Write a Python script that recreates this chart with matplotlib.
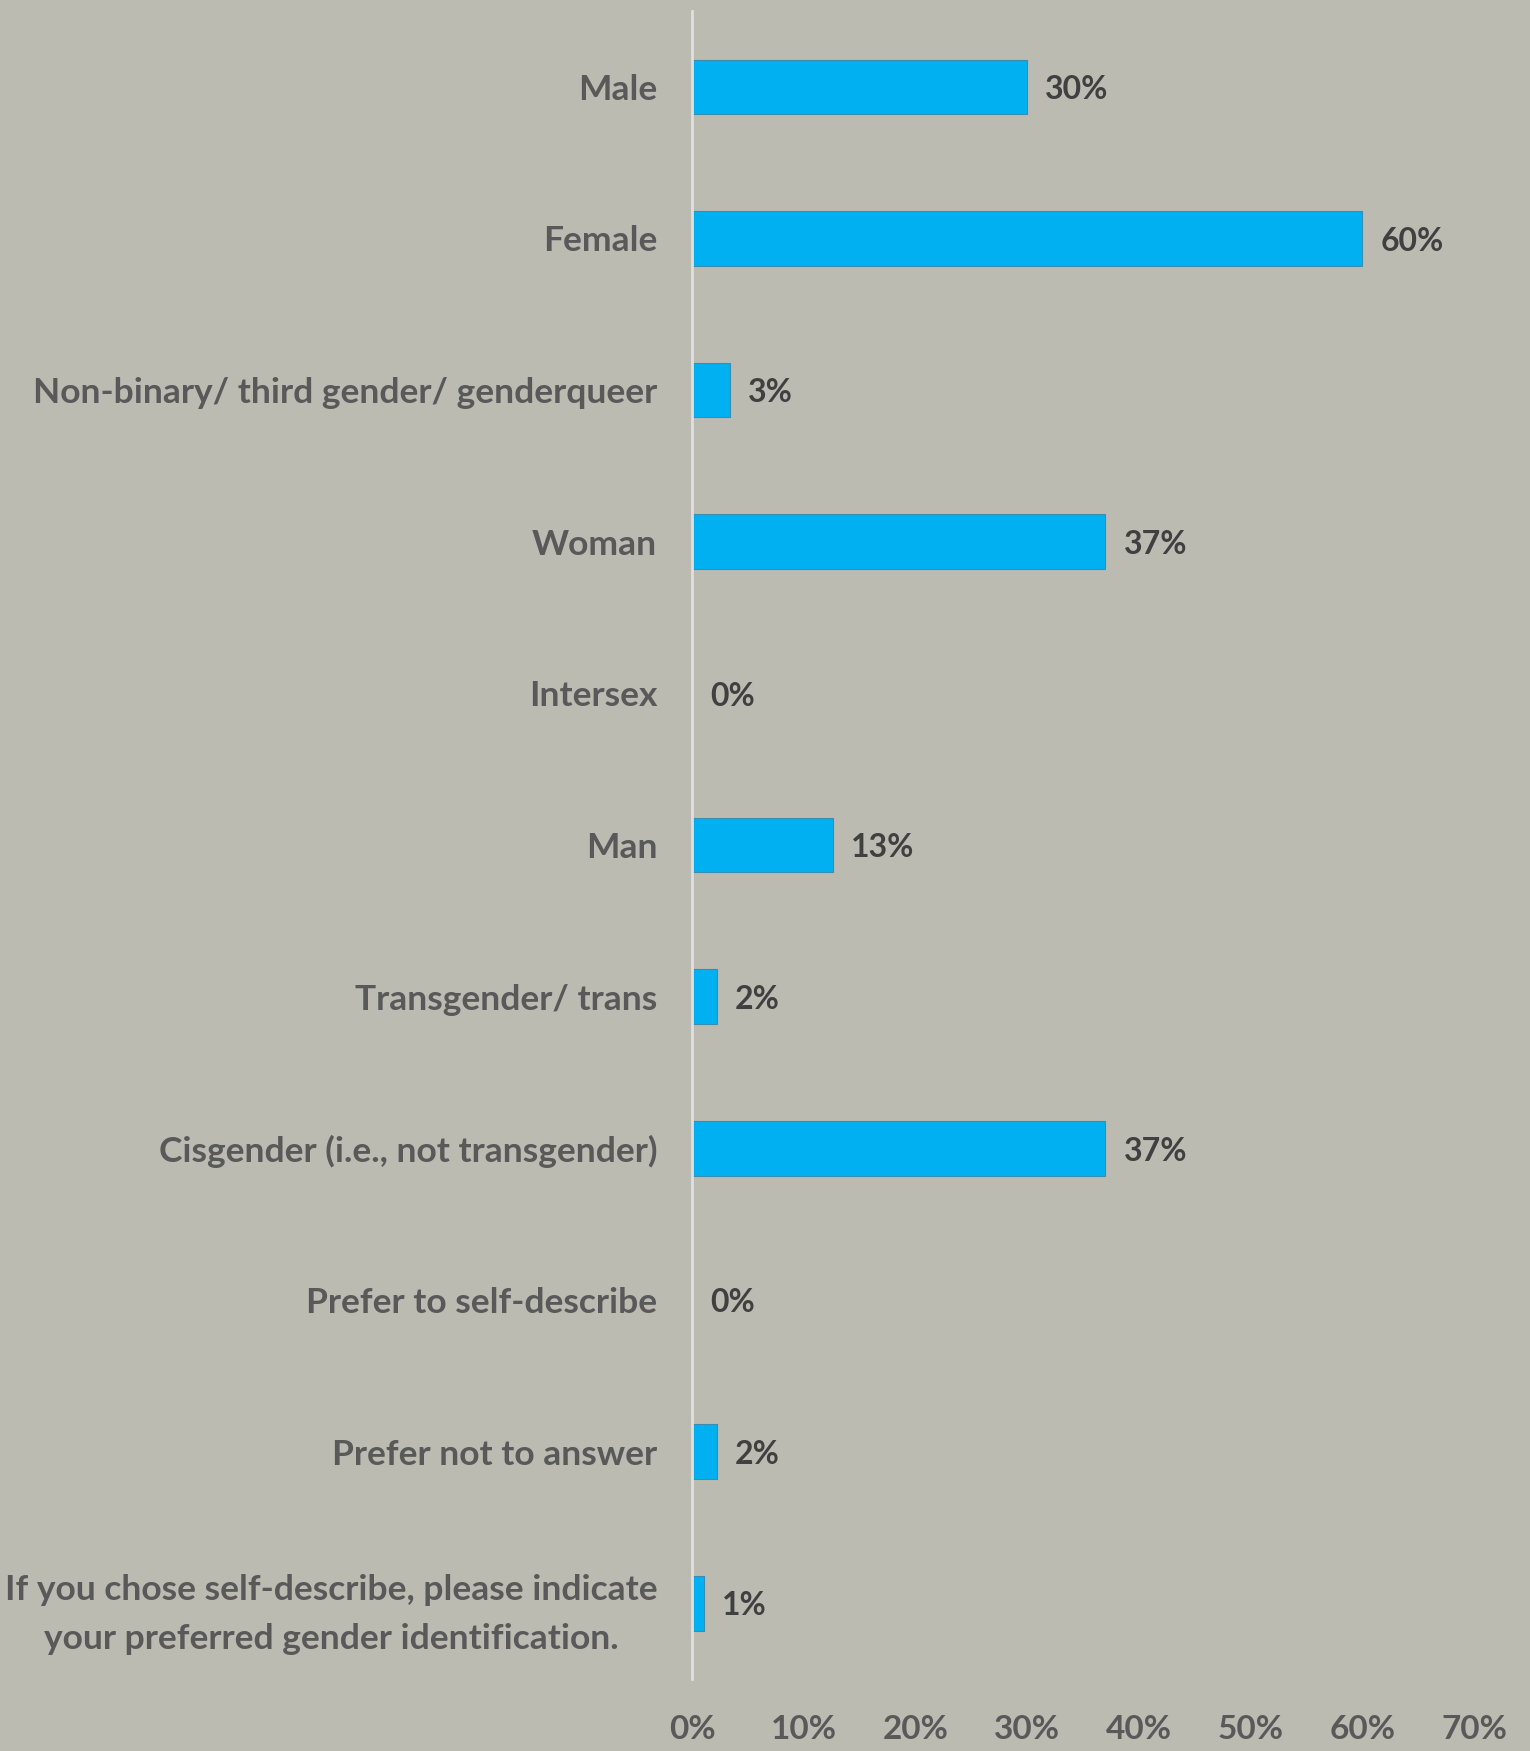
import matplotlib
matplotlib.use("Agg")
import matplotlib.pyplot as plt
from matplotlib.ticker import PercentFormatter

categories = [
    "Male",
    "Female",
    "Non-binary/ third gender/ genderqueer",
    "Woman",
    "Intersex",
    "Man",
    "Transgender/ trans",
    "Cisgender (i.e., not transgender)",
    "Prefer to self-describe",
    "Prefer not to answer",
    "If you chose self-describe, please indicate\nyour preferred gender identification.",
]
values = [0.30, 0.60, 0.034, 0.37, 0.0, 0.126, 0.022, 0.37, 0.0, 0.022, 0.011]
value_labels = ["30%", "60%", "3%", "37%", "0%", "13%", "2%", "37%", "0%", "2%", "1%"]
x_ticks = [0.0, 0.1, 0.2, 0.3, 0.4, 0.5, 0.6, 0.7]

BG = "#BBBBB2"
BAR = "#00B0F0"

plt.rcParams["font.family"] = ["Lato", "DejaVu Sans"]
plt.rcParams["font.weight"] = "bold"

fig = plt.figure(figsize=(15.3, 17.51), dpi=100, facecolor=BG)
ax = fig.add_axes([0.4523, 0.0411, 0.5111, 0.9526], facecolor=BG)

ypos = list(range(len(categories)))
ax.barh(ypos, values, height=0.36, color=BAR, edgecolor="#3B8DB0", linewidth=0.8, zorder=2)

# value labels just right of each bar end
for y, v, lab in zip(ypos, values, value_labels):
    ax.annotate(lab, (v, y), xytext=(13, -2), textcoords="offset points",
                ha="left", va="center", fontsize=23, color="#404040", fontweight="bold")

ax.set_ylim(len(categories) - 0.5, -0.5)
ax.set_xlim(0, 0.7)
ax.set_yticks(ypos)
ax.set_yticklabels(categories, fontsize=25.5, color="#595959", fontweight="bold",
                   multialignment="center", linespacing=1.65)
ax.set_xticks(x_ticks)
ax.xaxis.set_major_formatter(PercentFormatter(1.0, decimals=0))
ax.tick_params(axis="x", length=0, pad=26, labelsize=24, labelcolor="#595959")
ax.tick_params(axis="y", length=0, pad=25)

for s in ["top", "right", "bottom"]:
    ax.spines[s].set_visible(False)
ax.spines["left"].set_color("#E0E0E0")
ax.spines["left"].set_linewidth(2)
ax.spines["left"].set_zorder(3)

fig.savefig("out.png", dpi=100, facecolor=BG)
